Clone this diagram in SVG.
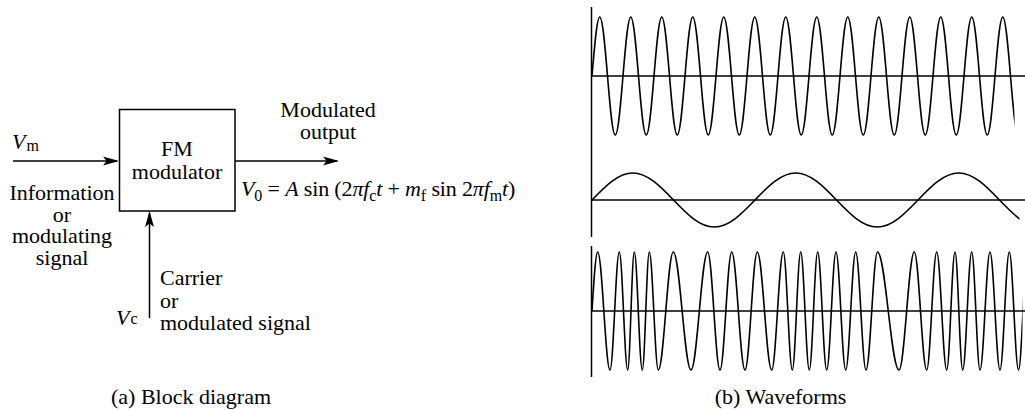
<svg xmlns="http://www.w3.org/2000/svg" width="1025" height="410" viewBox="0 0 1025 410">
<style>
.t{font-family:"Liberation Serif","Times New Roman",serif;font-size:22px;fill:#000}
.c{text-anchor:middle}
.i{font-style:italic}
.sub{font-size:16px;font-style:normal}
.eq{letter-spacing:-0.15px}
.ln{stroke:#000;stroke-width:1.5;fill:none}
.wave{stroke:#000;stroke-width:1.6;fill:none}
</style>
<defs>
<marker id="ah" markerUnits="userSpaceOnUse" viewBox="-17 -5 17 10" refX="-2" refY="0" markerWidth="17" markerHeight="10" orient="auto">
<path d="M0,0 L-16,-4.5 L-12.5,0 L-16,4.5 Z" fill="#000"/>
</marker>
<clipPath id="clipCarrier"><rect x="585" y="0" width="429.5" height="140"/></clipPath>
<clipPath id="clipMod"><rect x="585" y="140" width="434.5" height="100"/></clipPath>
<clipPath id="clipFM"><rect x="585" y="240" width="437.5" height="140"/></clipPath>
</defs>
<rect width="1025" height="410" fill="#fff"/>

<g id="connectors">
<path class="ln" d="M13,161 H117" marker-end="url(#ah)"/>
<path class="ln" d="M235,161 H337" marker-end="url(#ah)"/>
<path class="ln" d="M149.5,318 V213" marker-end="url(#ah)"/>
</g>

<g id="fm-modulator">
<rect class="ln" x="119.5" y="109.5" width="115.5" height="101.5"/>
<text class="t c" x="177" y="156">FM</text>
<text class="t c" x="177" y="179">modulator</text>
</g>

<g id="input-label">
<text class="t" x="12" y="149"><tspan class="i">V</tspan><tspan class="sub" dx="1" dy="2">m</tspan></text>
<text class="t c" x="62" y="200">Information</text>
<text class="t c" x="62" y="221.5">or</text>
<text class="t c" x="62" y="243">modulating</text>
<text class="t c" x="62" y="264.5">signal</text>
</g>

<g id="output-label">
<text class="t c" x="328" y="117">Modulated</text>
<text class="t c" x="328" y="139">output</text>
<text class="t eq" x="241" y="196"><tspan class="i">V</tspan><tspan class="sub" dy="5">0</tspan><tspan dy="-5"> = </tspan><tspan class="i">A</tspan><tspan> sin (2</tspan><tspan class="i">πf</tspan><tspan class="sub" dy="5">c</tspan><tspan class="i" dy="-5">t</tspan><tspan> + </tspan><tspan class="i">m</tspan><tspan class="sub" dy="5">f</tspan><tspan dy="-5"> sin 2</tspan><tspan class="i">πf</tspan><tspan class="sub" dy="5">m</tspan><tspan class="i" dy="-5">t</tspan><tspan>)</tspan></text>
</g>

<g id="carrier-label">
<text class="t" x="116" y="325"><tspan class="i">V</tspan><tspan class="sub" dx="1" dy="-1">c</tspan></text>
<text class="t" x="160" y="285">Carrier</text>
<text class="t" x="160" y="307.5">or</text>
<text class="t" x="160" y="330">modulated signal</text>
</g>

<text class="t c" x="191" y="404">(a) Block diagram</text>

<g id="waveforms">
<path class="ln" d="M591.5,7 V237"/>
<path class="ln" d="M591.5,246 V377"/>
<path class="ln" d="M591.5,76 H1025"/>
<path class="ln" d="M591.5,200 H1025"/>
<path class="ln" d="M591.5,311 H1025"/>

<path class="wave" clip-path="url(#clipCarrier)" d="M592,76 c2.53,-30.22 4.95,-59 7.75,-59 c5.633,0 9.867,118 15.5,118 s9.867,-118 15.5,-118 s9.867,118 15.5,118 s9.867,-118 15.5,-118 s9.867,118 15.5,118 s9.867,-118 15.5,-118 s9.867,118 15.5,118 s9.867,-118 15.5,-118 s9.867,118 15.5,118 s9.867,-118 15.5,-118 s9.867,118 15.5,118 s9.867,-118 15.5,-118 s9.867,118 15.5,118 s9.867,-118 15.5,-118 s9.867,118 15.5,118 s9.867,-118 15.5,-118 s9.867,118 15.5,118 s9.867,-118 15.5,-118 s9.867,118 15.5,118 s9.867,-118 15.5,-118 s9.867,118 15.5,118 s9.867,-118 15.5,-118 s9.867,118 15.5,118 s9.867,-118 15.5,-118 s9.867,118 15.5,118 s9.867,-118 15.5,-118 s9.867,118 15.5,118 s9.867,-118 15.5,-118 s9.867,118 15.5,118 s9.867,-118 15.5,-118 s9.867,118 15.5,118"/>

<path class="wave" clip-path="url(#clipMod)" d="M592,200 c13.29,-13.83 26,-27 40.75,-27 c29.62,0 51.88,54 81.5,54 s51.88,-54 81.5,-54 s51.88,54 81.5,54 s51.88,-54 81.5,-54 s51.88,54 81.5,54"/>

<path class="wave" clip-path="url(#clipFM)" d="M592,311 C593.86,280.77 595.64,252 597.7,252 C602.17,252 605.53,370 610,370 C613.38,370 615.92,252 619.3,252 C622.35,252 624.65,370 627.7,370 C630.1,370 631.9,252 634.3,252 C637.21,252 639.39,370 642.3,370 C644.84,370 646.76,252 649.3,252 C652.57,252 655.03,370 658.3,370 C663.75,370 667.85,252 673.3,252 C679.73,252 684.57,370 691,370 C697.07,370 701.63,252 707.7,252 C712.17,252 715.53,370 720,370 C724.25,370 727.45,252 731.7,252 C736.53,252 740.17,370 745,370 C749.47,370 752.83,252 757.3,252 C762.53,252 766.47,370 771.7,370 C775.92,370 779.08,252 783.3,252 C786.57,252 789.03,370 792.3,370 C795.35,370 797.65,252 800.7,252 C803.83,252 806.17,370 809.3,370 C812.35,370 814.65,252 817.7,252 C820.97,252 823.43,370 826.7,370 C830.08,370 832.62,252 836,252 C839.52,252 842.18,370 845.7,370 C849.33,370 852.07,252 855.7,252 C859.44,252 862.26,370 866,370 C870.18,370 873.32,252 877.5,252 C885.31,252 891.19,370 899,370 C904.56,370 908.74,252 914.3,252 C918.81,252 922.19,370 926.7,370 C930.33,370 933.07,252 936.7,252 C940.33,252 943.07,370 946.7,370 C949.72,370 951.98,252 955,252 C957.8,252 959.9,370 962.7,370 C965.97,370 968.43,252 971.7,252 C974.72,252 976.98,370 980,370 C983.63,370 986.37,252 990,252 C993.63,252 996.37,370 1000,370 C1003.38,370 1005.92,252 1009.3,252 C1012.64,252 1015.16,370 1018.5,370 C1021.77,370 1024.23,252 1027.5,252"/>
</g>

<text class="t c" x="780.5" y="404">(b) Waveforms</text>
</svg>
